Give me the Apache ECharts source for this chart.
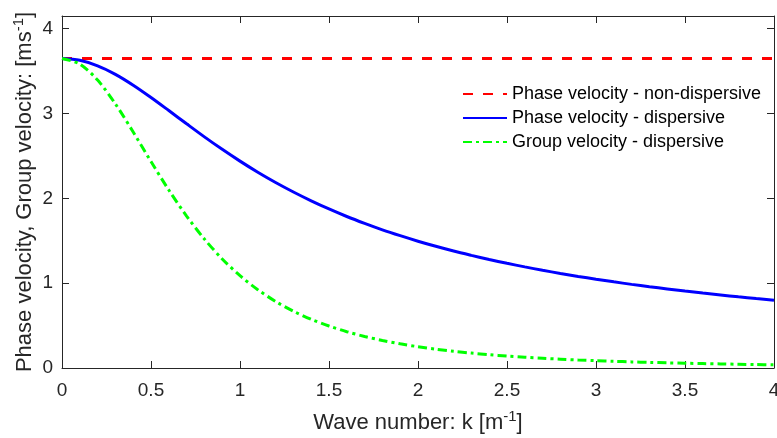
<!DOCTYPE html>
<html>
<head>
<meta charset="utf-8">
<script src="https://cdn.jsdelivr.net/npm/echarts@6/dist/echarts.min.js"></script>
<style>
  html, body { margin: 0; padding: 0; background: #fff; }
  #chart { width: 777px; height: 438px; }
</style>
</head>
<body>
<div id="chart"></div>
<script>
// Wave number samples, k [1/m]
const waveNumber = [0, 0.1, 0.2, 0.3, 0.4, 0.5, 0.6, 0.7, 0.8, 0.9, 1.0,
  1.1, 1.2, 1.3, 1.4, 1.5, 1.6, 1.7, 1.8, 1.9, 2.0,
  2.1, 2.2, 2.3, 2.4, 2.5, 2.6, 2.7, 2.8, 2.9, 3.0,
  3.1, 3.2, 3.3, 3.4, 3.5, 3.6, 3.7, 3.8, 3.9, 4.0];

// Phase velocity without dispersion [m/s]
const phaseNonDispersive = [3.65, 3.65, 3.65, 3.65, 3.65, 3.65, 3.65, 3.65, 3.65, 3.65, 3.65,
  3.65, 3.65, 3.65, 3.65, 3.65, 3.65, 3.65, 3.65, 3.65, 3.65,
  3.65, 3.65, 3.65, 3.65, 3.65, 3.65, 3.65, 3.65, 3.65, 3.65,
  3.65, 3.65, 3.65, 3.65, 3.65, 3.65, 3.65, 3.65, 3.65, 3.65];

// Phase velocity with dispersion [m/s]
const phaseDispersive = [3.650, 3.628, 3.563, 3.462, 3.334, 3.189, 3.035, 2.879, 2.725, 2.578, 2.439,
  2.308, 2.187, 2.075, 1.971, 1.875, 1.786, 1.705, 1.629, 1.560, 1.495,
  1.435, 1.379, 1.328, 1.279, 1.234, 1.192, 1.152, 1.115, 1.080, 1.047,
  1.016, 0.986, 0.958, 0.932, 0.907, 0.883, 0.861, 0.839, 0.819, 0.800];

// Group velocity with dispersion [m/s]
const groupDispersive = [3.650, 3.583, 3.394, 3.114, 2.782, 2.434, 2.098, 1.791, 1.520, 1.286, 1.089,
  0.923, 0.785, 0.670, 0.574, 0.495, 0.428, 0.372, 0.325, 0.285, 0.251,
  0.222, 0.197, 0.176, 0.157, 0.141, 0.127, 0.115, 0.104, 0.094, 0.086,
  0.079, 0.072, 0.066, 0.061, 0.056, 0.052, 0.048, 0.044, 0.041, 0.038];

const xTickStep = 0.5;
const yTickStep = 1;

const pairs = ys => waveNumber.map((k, i) => [k, ys[i]]);

const FONT = "'Liberation Sans', Arial, Helvetica, sans-serif";
const INK = '#262626';

const chart = echarts.init(document.getElementById('chart'), null, { renderer: 'canvas' });

const frameAxis = {
  axisLine: { show: true, onZero: false, lineStyle: { color: INK, width: 1 } },
  axisTick: { show: true, inside: true, length: 7, lineStyle: { color: INK, width: 1 } },
  splitLine: { show: false }
};

// Axis title text with a raised "-1" exponent
const titleStyle = {
  fontFamily: FONT, fontSize: 22, color: INK, lineHeight: 28,
  rich: {
    base: { fontFamily: FONT, fontSize: 22, color: INK, lineHeight: 28 },
    sup: { fontFamily: FONT, fontSize: 15, color: INK, verticalAlign: 'top', lineHeight: 15 }
  }
};

chart.setOption({
  animation: false,
  backgroundColor: '#ffffff',
  textStyle: { fontFamily: FONT },
  grid: { left: 62, right: 3, top: 16, bottom: 70, containLabel: false, outerBoundsMode: 'none' },
  legend: {
    orient: 'vertical',
    left: 462,
    top: 85,
    padding: 0,
    itemWidth: 44,
    itemHeight: 14,
    itemGap: 6,
    itemStyle: { opacity: 0 },
    textStyle: { fontFamily: FONT, fontSize: 18, color: '#000' },
    data: ['Phase velocity - non-dispersive', 'Phase velocity - dispersive', 'Group velocity - dispersive']
  },
  xAxis: [
    Object.assign({
      type: 'value', position: 'bottom', min: 0, max: 4, interval: xTickStep,
      name: '{base|Wave number: k [m}{sup|-1}{base|]}',
      nameLocation: 'middle', nameGap: 41, nameMoveOverlap: false,
      nameTextStyle: titleStyle,
      axisLabel: { show: true, margin: 13, fontFamily: FONT, fontSize: 19, color: INK }
    }, frameAxis),
    Object.assign({
      type: 'value', position: 'top', min: 0, max: 4, interval: xTickStep,
      axisLabel: { show: false }
    }, frameAxis)
  ],
  yAxis: [
    Object.assign({
      type: 'value', position: 'left', min: 0, max: 4.15, interval: yTickStep,
      name: '{base|Phase velocity, Group velocity: [ms}{sup|-1}{base|]}',
      nameLocation: 'middle', nameGap: 23, nameMoveOverlap: false,
      nameTextStyle: titleStyle,
      axisLabel: { show: true, margin: 9, fontFamily: FONT, fontSize: 19, color: INK, showMaxLabel: false }
    }, frameAxis),
    Object.assign({
      type: 'value', position: 'right', min: 0, max: 4.15, interval: yTickStep,
      axisLabel: { show: false }
    }, frameAxis)
  ],
  series: [
    {
      name: 'Phase velocity - non-dispersive',
      type: 'line', xAxisIndex: 0, yAxisIndex: 0,
      data: pairs(phaseNonDispersive),
      showSymbol: false, symbol: 'none',
      color: '#ff0000',
      lineStyle: { color: '#ff0000', width: 3, type: [10, 10] }
    },
    {
      name: 'Phase velocity - dispersive',
      type: 'line', xAxisIndex: 0, yAxisIndex: 0,
      data: pairs(phaseDispersive),
      smooth: 0.3,
      showSymbol: false, symbol: 'none',
      color: '#0000ff',
      lineStyle: { color: '#0000ff', width: 3, type: 'solid' }
    },
    {
      name: 'Group velocity - dispersive',
      type: 'line', xAxisIndex: 0, yAxisIndex: 0,
      data: pairs(groupDispersive),
      smooth: 0.3,
      showSymbol: false, symbol: 'none',
      color: '#00ff00',
      lineStyle: { color: '#00ff00', width: 3, type: [9, 4, 3, 4] }
    }
  ]
});
</script>
</body>
</html>
